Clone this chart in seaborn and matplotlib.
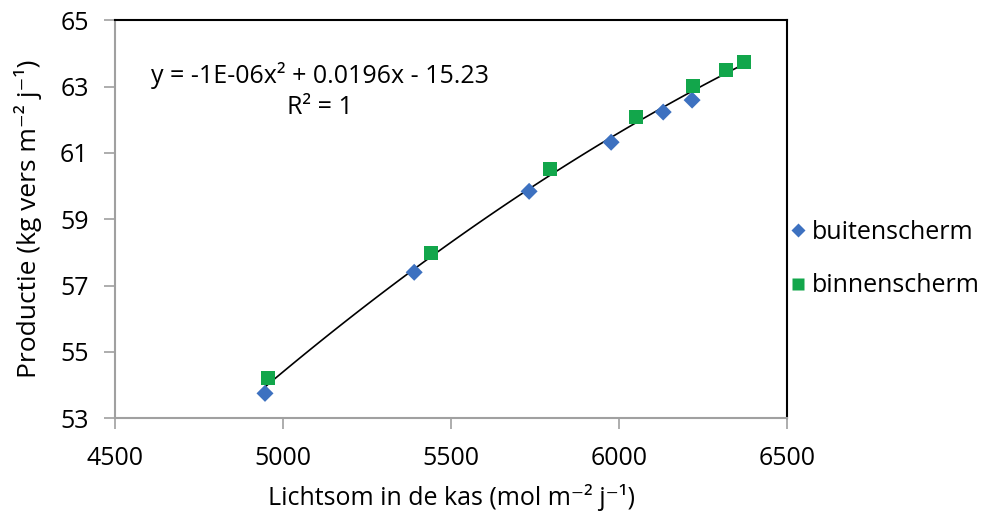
import numpy as np
import pandas as pd
import matplotlib
matplotlib.use("Agg")
import matplotlib.pyplot as plt
import seaborn as sns

# Data
buiten_x = [4946, 5390, 5732, 5976, 6131, 6217]
buiten_y = [53.75, 57.40, 59.84, 61.32, 62.23, 62.59]
binnen_x = [4955, 5440, 5795, 6051, 6220, 6318, 6372]
binnen_y = [54.21, 57.98, 60.51, 62.08, 63.01, 63.49, 63.73]
series_names = ["buitenscherm", "binnenscherm"]
x_ticks = [4500, 5000, 5500, 6000, 6500]
y_ticks = [53, 55, 57, 59, 61, 63, 65]

sns.set_theme(style="white")
plt.rcParams['font.family'] = ['Open Sans', 'DejaVu Sans']
plt.rcParams['text.color'] = 'black'
plt.rcParams['axes.labelcolor'] = 'black'

FS = 18

df = pd.DataFrame({
    "x": buiten_x + binnen_x,
    "y": buiten_y + binnen_y,
    "serie": [series_names[0]] * len(buiten_x) + [series_names[1]] * len(binnen_x),
})

fig = plt.figure(figsize=(9.84, 5.17), dpi=100)
ax = fig.add_axes([0.117, 0.191, 0.683, 0.770])

sns.regplot(data=df, x="x", y="y", order=2, ci=None, scatter=False,
            line_kws=dict(color="black", lw=1.2), ax=ax, truncate=True)

palette = {series_names[0]: "#3D71C0", series_names[1]: "#12A64B"}
sns.scatterplot(data=df[df.serie == series_names[0]], x="x", y="y", hue="serie",
                palette=palette, marker="D", s=75, edgecolor="none", ax=ax, zorder=3)
sns.scatterplot(data=df[df.serie == series_names[1]], x="x", y="y", hue="serie",
                palette=palette, marker="s", s=100, edgecolor="none", ax=ax, zorder=3)

ax.set_xlim(4500, 6500)
ax.set_ylim(53, 65)
ax.set_xticks(x_ticks)
ax.set_yticks(y_ticks)
ax.tick_params(axis="both", labelsize=FS, colors="#A0A0A0", labelcolor="black",
               direction="out", length=8, width=1.2, left=True, bottom=True)
ax.tick_params(axis="y", pad=11)
ax.tick_params(axis="x", pad=12)

for s in ["top", "right"]:
    ax.spines[s].set_color("black")
    ax.spines[s].set_linewidth(1.5)
for s in ["left", "bottom"]:
    ax.spines[s].set_color("#A0A0A0")
    ax.spines[s].set_linewidth(1.5)

ax.set_xlabel("Lichtsom in de kas (mol m⁻² j⁻¹)", fontsize=FS, labelpad=9)
ax.set_ylabel("Productie (kg vers m⁻² j⁻¹)", fontsize=FS + 1, labelpad=13)

ax.text(0.305, 0.862, "y = -1E-06x² + 0.0196x - 15.23", transform=ax.transAxes,
        ha="center", va="center", fontsize=FS)
ax.text(0.305, 0.781, "R² = 1", transform=ax.transAxes,
        ha="center", va="center", fontsize=FS)

leg = ax.legend(loc="center left", bbox_to_anchor=(0.987, 0.40), frameon=False,
                fontsize=FS, handlelength=0.8, handletextpad=0.15, labelspacing=1.15,
                borderaxespad=0, markerscale=0.8)

fig.savefig("out.png", dpi=100)
